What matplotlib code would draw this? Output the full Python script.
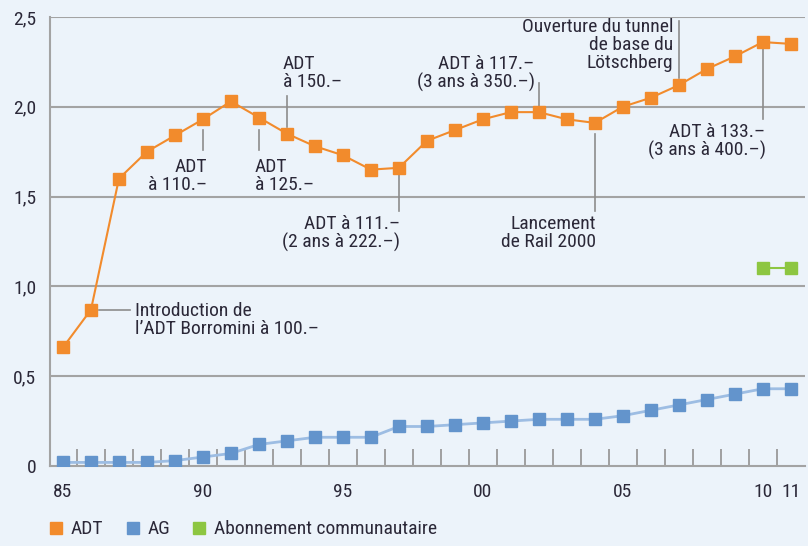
import matplotlib
matplotlib.use("Agg")
import matplotlib.pyplot as plt
from matplotlib.lines import Line2D

plt.rcParams['font.family'] = ['Roboto Condensed', 'DejaVu Sans']

# data
years = list(range(1985, 2012))
adt = [0.66, 0.87, 1.60, 1.75, 1.84, 1.93, 2.03, 1.94, 1.85, 1.78, 1.73, 1.65, 1.66, 1.81,
       1.87, 1.93, 1.97, 1.97, 1.93, 1.91, 2.00, 2.05, 2.12, 2.21, 2.28, 2.36, 2.35]
ag = [0.02, 0.02, 0.02, 0.02, 0.03, 0.05, 0.07, 0.12, 0.14, 0.16, 0.16, 0.16, 0.22, 0.22,
      0.23, 0.24, 0.25, 0.26, 0.26, 0.26, 0.28, 0.31, 0.34, 0.37, 0.40, 0.43, 0.43]
abo_years = [2010, 2011]
abo = [1.10, 1.10]

tick_years = [1985, 1990, 1995, 2000, 2005, 2010, 2011]
tick_labels = ['85', '90', '95', '00', '05', '10', '11']

orange = '#f28b2c'
blue = '#6394cc'
green = '#8dc641'
bg = '#ecf3fa'
grid = '#a3a3a3'
txt = '#2b2838'

# annotations: text, x, y (top), horizontal alignment
notes = [
    ("Introduction de\nl\u2019ADT Borromini \u00e0 100.\u2013", 1987.57, 0.915, 'left'),
    ("ADT\n\u00e0 110.\u2013", 1990.15, 1.715, 'right'),
    ("ADT\n\u00e0 125.\u2013", 1991.85, 1.715, 'left'),
    ("ADT\n\u00e0 150.\u2013", 1992.85, 2.29, 'left'),
    ("ADT \u00e0 111.\u2013\n(2 ans \u00e0 222.\u2013)", 1997.05, 1.40, 'right'),
    ("ADT \u00e0 117.\u2013\n(3 ans \u00e0 350.\u2013)", 2001.85, 2.29, 'right'),
    ("Lancement\nde Rail 2000", 2004.05, 1.40, 'right'),
    ("Ouverture du tunnel\nde base du\nL\u00f6tschberg", 2006.8, 2.495, 'right'),
    ("ADT \u00e0 133.\u2013\n(3 ans \u00e0 400.\u2013)", 2010.1, 1.91, 'right'),
]
# leader lines (x, y from, y to)
vlines = [(1990, 1.87, 1.76), (1992, 1.87, 1.76), (1993, 2.06, 1.89), (1997, 1.62, 1.42),
          (2002, 2.13, 2.00), (2004, 1.85, 1.42), (2007, 2.48, 2.16), (2010, 2.32, 1.93)]
hline = (0.87, 1986.3, 1987.4)

fig = plt.figure(figsize=(8.08, 5.46), dpi=100, facecolor=bg)
ax = fig.add_axes([0.062, 0.1465, 0.934, 0.8225])
ax.set_facecolor(bg)

for y in [0.5, 1.0, 1.5, 2.0, 2.5]:
    ax.axhline(y, color=grid, lw=1.5, zorder=1)

for x, y0, y1 in vlines:
    ax.plot([x, x], [y0, y1], color='#8c8c8c', lw=1.2, zorder=2)
ax.plot([hline[1], hline[2]], [hline[0], hline[0]], color='#8c8c8c', lw=1.2, zorder=2)

ax.plot(years, ag, color='#9dbde3', lw=2, marker='s', ms=8.5, mfc=blue, mec=blue, zorder=3)
ax.plot(years, adt, color=orange, lw=1.5, marker='s', ms=8.5, mfc=orange, mec=orange, zorder=4)
ax.plot(abo_years, abo, color=green, lw=1.5, marker='s', ms=8.5, mfc=green, mec=green, zorder=4)

for s, x, y, ha in notes:
    ax.text(x, y, s, ha=ha, va='top', fontsize=14, color=txt, linespacing=1.0, zorder=5)

ax.set_xlim(1984.54, 2011.5)
ax.set_ylim(0, 2.5)
ax.set_yticks([0, 0.5, 1.0, 1.5, 2.0, 2.5])
ax.set_yticklabels(['0', '0,5', '1,0', '1,5', '2,0', '2,5'])
ax.set_xticks(tick_years)
ax.set_xticklabels(tick_labels)
ax.set_xticks([y + 0.5 for y in range(1985, 2011)], minor=True)
ax.tick_params(axis='both', which='major', length=0, labelsize=14, colors=txt)
ax.tick_params(axis='x', which='major', pad=12)
ax.tick_params(axis='y', which='major', pad=10)
ax.tick_params(axis='x', which='minor', direction='in', length=12, width=1.3, color='#999999')

for side in ['top', 'right']:
    ax.spines[side].set_visible(False)
for side in ['left', 'bottom']:
    ax.spines[side].set_color(grid)
    ax.spines[side].set_linewidth(1.5)

handles = [Line2D([], [], ls='none', marker='s', ms=9, color=c) for c in (orange, blue, green)]
fig.legend(handles, ['ADT', 'AG', 'Abonnement communautaire'], loc='lower left',
           bbox_to_anchor=(0.036, -0.018), ncol=3, frameon=False, fontsize=14,
           handletextpad=0.25, columnspacing=1.0, handlelength=1.0, labelcolor=txt)

fig.savefig('out.png', dpi=100, facecolor=bg)
